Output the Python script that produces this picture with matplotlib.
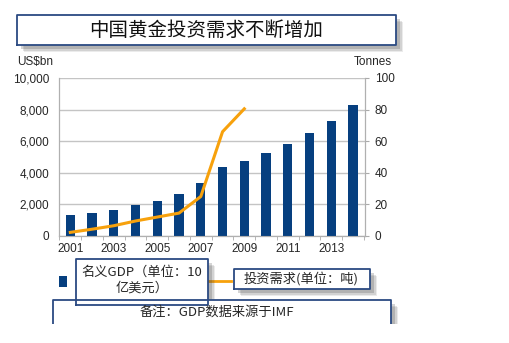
import numpy as np
import matplotlib
matplotlib.use('Agg')
import matplotlib.pyplot as plt
from matplotlib.patches import Rectangle
from matplotlib.lines import Line2D

years = [2001, 2002, 2003, 2004, 2005, 2006, 2007, 2008, 2009, 2010, 2011, 2012, 2013, 2014]
gdp = [1330, 1475, 1645, 1940, 2235, 2660, 3375, 4350, 4770, 5250, 5820, 6540, 7280, 8290]
demand_years = [2001, 2002, 2003, 2004, 2005, 2006, 2007, 2008, 2009]
demand = [2.3, 4.3, 6.5, 9.5, 12.0, 14.5, 25.0, 66.0, 80.5]
year_labels = ['2001', '2003', '2005', '2007', '2009', '2011', '2013']

title = '中国黄金投资需求不断增加'
gdp_label = '名义GDP（单位：10\n亿美元）'
demand_label = '投资需求(单位：吨)'
note = '备注：GDP数据来源于IMF'

W, H = 509, 343
NUM = ['Liberation Sans', 'DejaVu Sans']
CJK = ['Noto Sans CJK SC', 'DejaVu Sans']
BLUE = '#063f7f'
ORANGE = '#f7a10c'
BOX = '#2b4a82'
TXT = '#262626'

plt.rcParams['font.family'] = NUM

fig = plt.figure(figsize=(W / 100, H / 100), dpi=100)
ax = fig.add_axes([59 / W, 1 - 236 / H, (365 - 59) / W, (236 - 78) / H])
ax2 = ax.twinx()


def fx(x):
    return x / W


def fy(y):
    return 1 - y / H


def box(x0, y0, x1, y1, shadow=True, open_bottom=False):
    if shadow:
        for d, a in [(7, 0.10), (5.5, 0.15), (4, 0.22)]:
            fig.add_artist(Rectangle((fx(x0 + d), fy(y1 + d)), fx(x1 - x0), (y1 - y0) / H,
                                     transform=fig.transFigure, facecolor='#444444',
                                     alpha=a, edgecolor='none', zorder=5))
    fig.add_artist(Rectangle((fx(x0), fy(y1)), fx(x1 - x0), (y1 - y0) / H,
                             transform=fig.transFigure, facecolor='white',
                             edgecolor='none', zorder=6))
    if open_bottom:
        xs = [fx(x0), fx(x0), fx(x1), fx(x1)]
        ys = [fy(y1), fy(y0), fy(y0), fy(y1)]
    else:
        xs = [fx(x0), fx(x0), fx(x1), fx(x1), fx(x0)]
        ys = [fy(y1), fy(y0), fy(y0), fy(y1), fy(y1)]
    fig.add_artist(Line2D(xs, ys, transform=fig.transFigure, color=BOX, lw=1.3, zorder=7))


ax.bar(years, gdp, width=0.42, color=BLUE, zorder=3)
ax2.plot(demand_years, demand, color=ORANGE, lw=2.2, zorder=4)

ax.set_xlim(2000.48, 2014.55)
ax.set_ylim(0, 10000)
ax2.set_ylim(0, 100)
ax.set_yticks(np.arange(0, 10001, 2000))
ax.set_yticklabels(['{:,}'.format(v) for v in range(0, 10001, 2000)])
ax2.set_yticks(np.arange(0, 101, 20))
ax.set_xticks([int(y) for y in year_labels])
ax.set_xticklabels(year_labels)
ax.set_xticks(np.arange(2000.5, 2015, 1), minor=True)
ax.tick_params(axis='x', which='major', length=0, pad=5, labelsize=8.5, labelcolor=TXT)
ax.tick_params(axis='x', which='minor', length=3, color='#aaaaaa')
ax.tick_params(axis='y', length=0, pad=7, labelsize=8.5, labelcolor=TXT)
ax2.tick_params(axis='y', length=3, color='#aaaaaa', pad=4, labelsize=8.5, labelcolor=TXT)
ax.grid(axis='y', color='#c4c4c4', lw=1, zorder=0)
ax.set_axisbelow(True)
for a in (ax, ax2):
    a.spines['top'].set_visible(False)
    for s in ('left', 'right', 'bottom'):
        a.spines[s].set_color('#b0b0b0')

fig.text(fx(17), fy(62), 'US$bn', ha='left', va='center', fontsize=8.5, color=TXT)
fig.text(fx(392), fy(62), 'Tonnes', ha='right', va='center', fontsize=8.5, color=TXT)

# title box
box(17, 15, 396, 45)
fig.text(fx(206), fy(30), title, ha='center', va='center', fontsize=14,
         family=CJK, color='#111111', zorder=8)

# legend
fig.add_artist(Rectangle((fx(59), fy(287)), fx(8), 11 / H, transform=fig.transFigure,
                         facecolor=BLUE, edgecolor='none', zorder=4))
fig.add_artist(Line2D([fx(208), fx(231)], [fy(281), fy(281)], transform=fig.transFigure,
                      color=ORANGE, lw=2, zorder=4))
box(76, 259, 208, 305)
fig.text(fx(142), fy(280), gdp_label, ha='center', va='center', fontsize=9.5,
         family=CJK, color=TXT, linespacing=1.25, zorder=8)
box(234, 269, 370, 289)
fig.text(fx(301), fy(279), demand_label, ha='center', va='center', fontsize=9.5,
         family=CJK, color=TXT, zorder=8)

# note box, cut off at the bottom
box(53, 300, 391, 324, open_bottom=True)
fig.add_artist(Rectangle((0, 0), 1, fy(324), transform=fig.transFigure,
                         facecolor='white', edgecolor='none', zorder=9))
fig.text(fx(217), fy(312), note, ha='center', va='center', fontsize=9.5,
         family=CJK, color=TXT, zorder=8)

fig.savefig('out.png', dpi=100)
